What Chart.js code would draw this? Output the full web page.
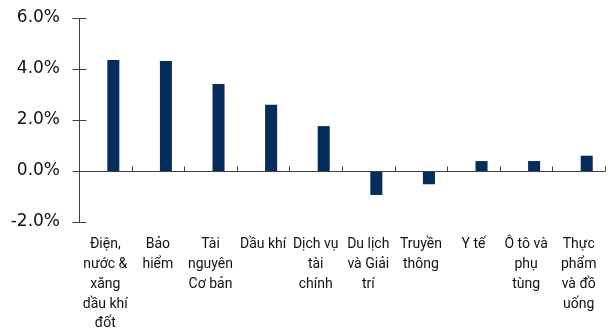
<!DOCTYPE html>
<html>
<head>
<meta charset="utf-8">
<script src="https://cdn.jsdelivr.net/npm/chart.js@4.4.1/dist/chart.umd.min.js"></script>
<style>
  body { margin: 0; background: #fff; }
</style>
</head>
<body>
<canvas id="sector-chart" width="612" height="332"></canvas>
<script>
// Sector labels (already wrapped like the picture)
const sectors = [
    ['Điện,', 'nước &', 'xăng', 'dầu khí', 'đốt'],
    ['Bảo', 'hiểm'],
    ['Tài', 'nguyên', 'Cơ bản'],
    ['Dầu khí'],
    ['Dịch vụ', 'tài', 'chính'],
    ['Du lịch', 'và Giải', 'trí'],
    ['Truyền', 'thông'],
    ['Y tế'],
    ['Ô tô và', 'phụ', 'tùng'],
    ['Thực', 'phẩm', 'và đồ', 'uống']
];

// Sector performance, %
const returns = [4.35, 4.31, 3.41, 2.60, 1.76, -0.94, -0.52, 0.39, 0.39, 0.60];

// Empty series that pushes the bars right of centre, as in the original
const blank = sectors.map(() => null);

// Y axis ticks
const yTicks = [-2, 0, 2, 4, 6];

const lineColor = '#404040';

// Drop the extra room Chart.js keeps for overhanging labels
function noOverhang(scale) {
    scale.paddingTop = 0;
    scale.paddingBottom = 0;
    scale.paddingLeft = 0;
    scale.paddingRight = 0;
}

// Draws the axis lines and the small tick marks
const axisLines = {
    id: 'axisLines',
    afterDatasetsDraw(chart) {
        const ctx = chart.ctx;
        const area = chart.chartArea;
        const x = chart.scales.x;
        const y = chart.scales.y;
        const y0 = Math.round(y.getPixelForValue(0)) + 0.5;
        const left = Math.round(area.left) + 0.5;

        ctx.save();
        ctx.strokeStyle = lineColor;
        ctx.lineWidth = 1;
        ctx.beginPath();
        // vertical axis
        ctx.moveTo(left, y.getPixelForValue(yTicks[yTicks.length - 1]));
        ctx.lineTo(left, y.getPixelForValue(yTicks[0]));
        // tick marks crossing it
        yTicks.forEach(v => {
            const py = Math.round(y.getPixelForValue(v)) + 0.5;
            ctx.moveTo(left - 7, py);
            ctx.lineTo(left + 7, py);
        });
        // zero line
        ctx.moveTo(left, y0);
        ctx.lineTo(area.right, y0);
        // category separators pointing up
        const step = x.getPixelForValue(1) - x.getPixelForValue(0);
        for (let i = 0; i < sectors.length; i++) {
            const px = Math.round(x.getPixelForValue(i) + step / 2) + 0.5;
            ctx.moveTo(px, y0);
            ctx.lineTo(px, y0 - 5);
        }
        ctx.stroke();
        ctx.restore();
    }
};

new Chart(document.getElementById('sector-chart'), {
    type: 'bar',
    data: {
        labels: sectors,
        datasets: [
            { data: blank },
            {
                data: returns,
                backgroundColor: '#052d5b',
                borderWidth: 0
            }
        ]
    },
    options: {
        responsive: false,
        animation: false,
        categoryPercentage: 0.61,
        barPercentage: 0.75,
        layout: { padding: { top: 18, right: 7, bottom: 0, left: 0 } },
        plugins: {
            legend: { display: false },
            tooltip: { enabled: false }
        },
        scales: {
            x: {
                grid: { display: false, drawTicks: false },
                border: { display: false },
                afterFit: (scale) => { noOverhang(scale); scale.height = 110; },
                ticks: {
                    color: '#111',
                    padding: 13,
                    maxRotation: 0,
                    autoSkip: false,
                    font: { family: 'Roboto', size: 14, lineHeight: 1.41 }
                }
            },
            y: {
                min: -2,
                max: 6,
                grid: { display: false, drawTicks: false },
                border: { display: false },
                afterFit: (scale) => { noOverhang(scale); scale.width = 79; },
                ticks: {
                    stepSize: 2,
                    color: '#111',
                    padding: 19,
                    font: { family: 'DejaVu Sans', size: 17 },
                    callback: (v) => v.toFixed(1) + '%'
                }
            }
        }
    },
    plugins: [axisLines]
});
</script>
</body>
</html>
